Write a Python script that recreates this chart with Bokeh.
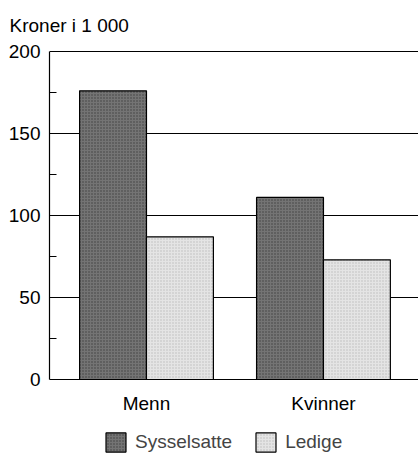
from bokeh.plotting import figure
from bokeh.models import Range1d, FixedTicker, Legend, LegendItem, ColumnDataSource
from bokeh.embed import file_html
from bokeh.resources import INLINE

categories = ["Menn", "Kvinner"]
series = ["Sysselsatte", "Ledige"]
sysselsatte = [176, 111]
ledige = [87, 73]
y_ticks = [0, 50, 100, 150, 200]
title_text = "Kroner i 1 000"

FONT = "Liberation Sans"
FS = "19px"

# layout geometry (pixels)
PX_PER_UNIT = 328 / 200
EXTRA_TOP = 13      # frame space above the 200 line (holds nothing)
EXTRA_BOTTOM = 76   # frame space below the 0 line (holds the x labels and legend)

idx = list(range(len(categories)))
bar_w = 0.378
src = ColumnDataSource(dict(
    xs=[i + 0.5 - bar_w / 2 for i in idx],
    xl=[i + 0.5 + bar_w / 2 for i in idx],
    syss=sysselsatte,
    led=ledige,
))

p = figure(frame_width=369, frame_height=328 + EXTRA_TOP + EXTRA_BOTTOM,
           output_backend="svg", toolbar_location=None,
           x_range=Range1d(-0.048, 2.037),
           y_range=Range1d(-EXTRA_BOTTOM / PX_PER_UNIT, 200 + EXTRA_TOP / PX_PER_UNIT),
           min_border_left=49, min_border_right=0, min_border_top=38, min_border_bottom=0)

p.title.text = title_text
p.title.text_font = FONT
p.title.text_font_size = FS
p.title.text_font_style = "normal"
p.title.text_color = "black"
p.title.align = "left"
p.title.offset = -40
p.title.standoff = 6

r1 = p.vbar(x="xs", top="syss", width=bar_w, source=src, fill_color="#747474",
            line_color="black", line_width=1.2,
            hatch_pattern="dot", hatch_color="#2a2a2a", hatch_scale=3, hatch_alpha=0.7)
r2 = p.vbar(x="xl", top="led", width=bar_w, source=src, fill_color="#e4e4e4",
            line_color="black", line_width=1.2,
            hatch_pattern="dot", hatch_color="#a0a0a0", hatch_scale=3, hatch_alpha=0.6)

p.outline_line_color = None
p.background_fill_color = "white"
p.border_fill_color = "white"

# y axis
p.yaxis.ticker = FixedTicker(ticks=y_ticks, minor_ticks=[25, 75, 125, 175])
p.yaxis.bounds = (0, 200)
p.yaxis.major_tick_in = 0
p.yaxis.major_tick_out = 0
p.yaxis.minor_tick_in = 7
p.yaxis.minor_tick_out = 0
p.yaxis.minor_tick_line_color = "black"
p.yaxis.axis_line_color = "black"
p.yaxis.axis_line_width = 1.2
p.yaxis.major_label_text_font = FONT
p.yaxis.major_label_text_font_size = FS
p.yaxis.major_label_text_color = "black"
p.yaxis.major_label_standoff = 9

p.ygrid.ticker = FixedTicker(ticks=y_ticks)
p.ygrid.grid_line_color = "black"
p.ygrid.grid_line_width = 1
p.xgrid.grid_line_color = None

# x axis, pinned to the 0 line
p.xaxis.fixed_location = 0
p.xaxis.ticker = FixedTicker(ticks=[i + 0.5 for i in idx])
p.xaxis.major_label_overrides = {i + 0.5: c for i, c in zip(idx, categories)}
p.xaxis.major_tick_in = 0
p.xaxis.major_tick_out = 0
p.xaxis.minor_tick_line_color = None
p.xaxis.axis_line_color = "black"
p.xaxis.axis_line_width = 1.2
p.xaxis.major_label_text_font = FONT
p.xaxis.major_label_text_font_size = FS
p.xaxis.major_label_text_color = "black"
p.xaxis.major_label_standoff = 13

legend = Legend(items=[LegendItem(label=series[0], renderers=[r1]),
                       LegendItem(label=series[1], renderers=[r2])],
                orientation="horizontal", location=(54, 1),
                label_text_font=FONT, label_text_font_size=FS,
                glyph_width=25, glyph_height=24, spacing=21, label_standoff=7,
                border_line_color=None, background_fill_alpha=0, padding=0, margin=0)
p.add_layout(legend)

open("out.html", "w").write(file_html(p, INLINE))
